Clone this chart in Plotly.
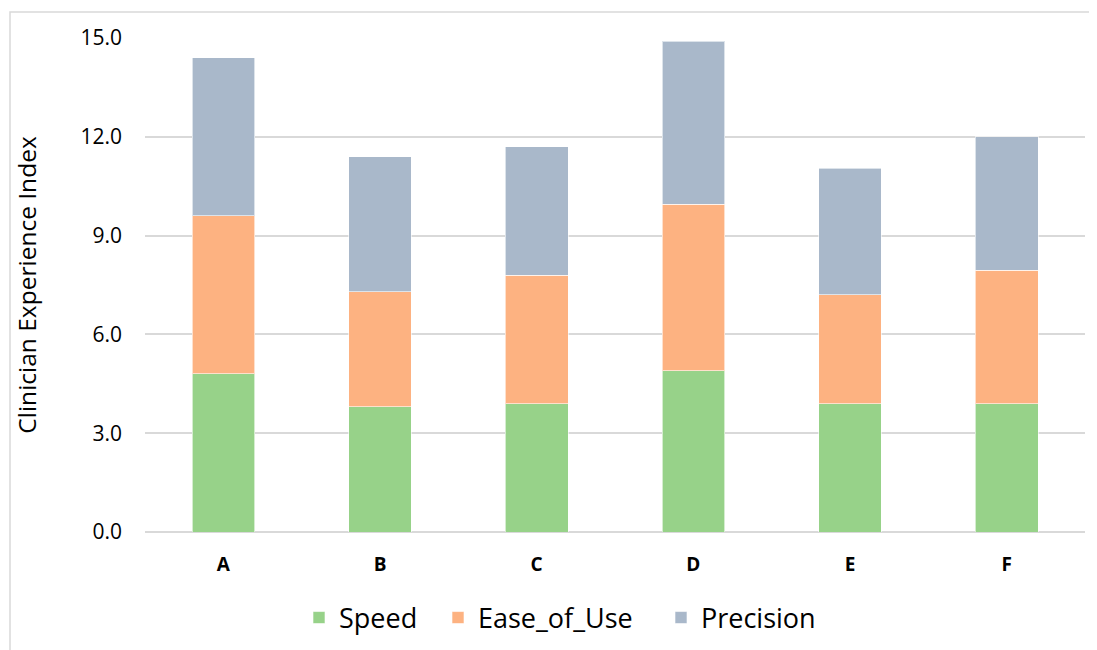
import plotly.graph_objects as go

categories = ["A", "B", "C", "D", "E", "F"]
speed = [4.8, 3.8, 3.9, 4.9, 3.9, 3.9]
ease_of_use = [4.8, 3.5, 3.9, 5.05, 3.3, 4.05]
precision = [4.8, 4.1, 3.9, 4.95, 3.85, 4.05]
y_ticks = [0, 3, 6, 9, 12, 15]

series = [
    ("Speed", speed, "#97d289", "legend"),
    ("Ease_of_Use", ease_of_use, "#fdb281", "legend2"),
    ("Precision", precision, "#a9b8ca", "legend3"),
]

fig = go.Figure()
for name, vals, color, leg in series:
    fig.add_trace(go.Bar(
        x=categories, y=vals, name=name, legend=leg,
        marker=dict(color=color, line=dict(color="rgba(255,255,255,0.6)", width=1)),
    ))

FONT = "Open Sans"
# page body has an 8px default margin, so the figure is drawn 8px in from the window
OFF = 8
W, H = 1097 - OFF, 650 - OFF
ml, mr, mt, mb = 145 - OFF, 12, 38 - OFF, 118
pw, ph = W - ml - mr, H - mt - mb

def px_x(px):
    return (px - OFF - ml) / pw

def px_y(py):
    return (H - mb - (py - OFF)) / ph

def legend_at(px):
    return dict(
        orientation="h", x=px_x(px), xanchor="left",
        y=px_y(618), yanchor="middle",
        font=dict(family=FONT, size=27),
        bgcolor="rgba(0,0,0,0)", borderwidth=0,
    )

fig.update_layout(
    width=W, height=H,
    barmode="stack", bargap=0.6,
    plot_bgcolor="white", paper_bgcolor="white",
    margin=dict(l=ml, r=mr, t=mt, b=mb, autoexpand=False),
    font=dict(family=FONT, color="#000000"),
    showlegend=True,
    legend=legend_at(299),
    legend2=legend_at(438),
    legend3=legend_at(661),
    xaxis=dict(
        showgrid=False, showline=False, zeroline=False, automargin=False,
        tickfont=dict(family=FONT, size=19, weight="bold"),
        ticks="", ticklabelstandoff=19,
    ),
    yaxis=dict(
        range=[0, 15], tickvals=y_ticks, automargin=False,
        tickformat=".1f",
        showgrid=True, gridcolor="#d9d9d9", gridwidth=1.5,
        zeroline=True, zerolinecolor="#d9d9d9", zerolinewidth=1.5,
        showline=False, ticks="",
        tickfont=dict(family=FONT, size=21),
        ticklabelstandoff=22,
        title=dict(text="Clinician Experience Index", font=dict(family=FONT, size=24.5), standoff=36),
    ),
    shapes=[dict(
        type="rect", xref="paper", yref="paper",
        x0=px_x(10), x1=px_x(1096), y0=px_y(12), y1=px_y(670),
        line=dict(color="#d9d9d9", width=1.5), fillcolor="rgba(0,0,0,0)", layer="below",
    )],
)

fig.write_html("out.html")
